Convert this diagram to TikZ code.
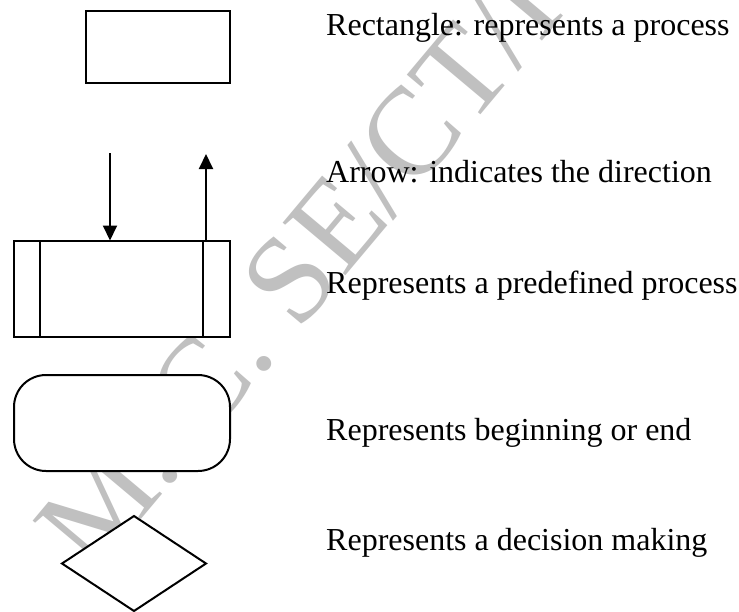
\documentclass[tikz,border=0pt]{standalone}
\usepackage{fontspec}
\setmainfont{Liberation Serif}
\usetikzlibrary{arrows.meta,shapes.geometric}
\definecolor{wmgray}{RGB}{192,192,192}
\begin{document}
\begin{tikzpicture}[x=1pt,y=-1pt,
  shapeline/.style={draw=black,line width=2pt,fill=white,inner sep=0pt,outer sep=0pt},
  label/.style={anchor=base west,inner sep=0pt,font=\fontsize{32}{38}\selectfont},
  flow/.style={draw=black,line width=2pt,-{Triangle[width=14pt,length=15pt]}},
  watermark/.style={anchor=base west,inner sep=0pt,text=wmgray,font=\fontsize{125}{125}\selectfont,rotate=50}]
\useasboundingbox[fill=white] (0,0) rectangle (739,611);
% watermark
\node[watermark] (wm) at (93,577) {M. C. SE/CT/IT...};
% process rectangle
\node[shapeline,minimum width=144pt,minimum height=72pt] (proc) at (158,46.5) {};
% predefined process
\node[shapeline,minimum width=216pt,minimum height=96pt] (pre) at (122,288.5) {};
\coordinate (pl) at (40,0);
\coordinate (pr) at (203,0);
\draw[line width=2pt] (pre.north -| pl) -- (pre.south -| pl);
\draw[line width=2pt] (pre.north -| pr) -- (pre.south -| pr);
% arrows
\coordinate (a1) at (110,153);
\coordinate (a2) at (206,154);
\draw[flow] (a1) -- (pre.north -| a1);
\draw[flow] (pre.north -| a2) -- (a2);
% terminal
\node[shapeline,rounded corners=32pt,minimum width=216pt,minimum height=96pt] (term) at (122,423) {};
% decision
\node[shapeline,diamond,minimum width=144pt,minimum height=95pt] (dec) at (134,563.5) {};
% labels
\node[label] (t1) at (326,35) {Rectangle: represents a process};
\node[label] (t2) at (326,182) {Arrow: indicates the direction};
\node[label] (t3) at (326,293) {Represents a predefined process};
\node[label] (t4) at (326,440) {Represents beginning or end};
\node[label] (t5) at (326,550) {Represents a decision making};
\end{tikzpicture}
\end{document}
